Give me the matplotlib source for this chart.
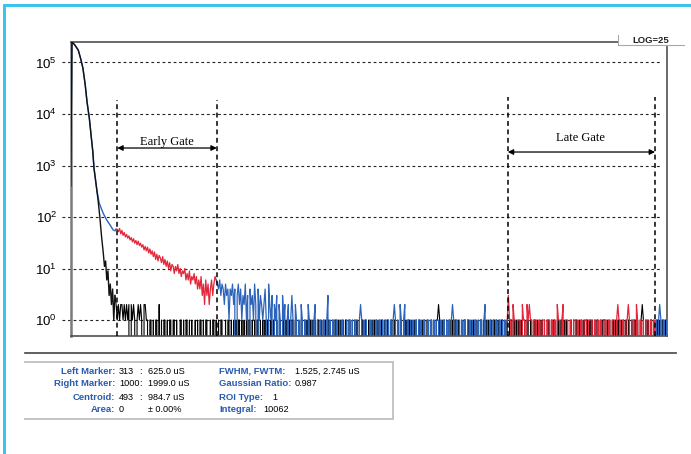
import numpy as np
import matplotlib
matplotlib.use("Agg")
import matplotlib.pyplot as plt
from matplotlib.patches import Rectangle
from matplotlib.lines import Line2D
from matplotlib.ticker import NullLocator

plt.rcParams['font.family'] = ['Liberation Sans', 'DejaVu Sans']
plt.rcParams['mathtext.fontset'] = 'custom'
plt.rcParams['mathtext.rm'] = 'Liberation Sans'
plt.rcParams['mathtext.it'] = 'Liberation Sans:italic'
plt.rcParams['mathtext.bf'] = 'Liberation Sans:bold'
plt.rcParams['path.simplify'] = False

# ---------------- data (counts per channel) ----------------
# black trace: steep decay head, then noise (digits = counts, step 2 channels)
black_head_ch = [0, 2, 7, 13, 17, 21, 25, 28, 32, 35, 38, 40, 43, 47, 50, 53, 56,
                 58, 60, 62, 64, 66, 68, 70, 72, 74, 76]
black_head_cnt = [400, 251000, 219000, 174000, 120000, 77600, 36300, 17400, 8300,
                  3890, 1860, 891, 490, 214, 102, 42, 20, 11, 14, 6, 9, 3, 5, 2, 4, 1, 3]
black_tail_start = 78
black_tail = ("2121221212" "1202121012" "1210221101" "1010110201" "0110101101"
              "1010011010" "1101010010" "1011010110" "0101101010" "1100101101"
              "0101011010" "1010110101" "0110101010" "1101011010" "0101101011"
              "0110100101" "1010101101" "0101101010" "1011001011" "0101010110"
              "1101010101" "0110110100" "1010101011" "0101101101" "1010010101"
              "0110101010" "1101010110" "0101011210" "1010101101" "0110100101"
              "1011010101" "0101101010" "1010110101" "0110101011" "1010101010"
              "0101101101" "1010101010" "0110101101" "1011010100" "0101011010"
              "1010110101" "0101101011" "1010100101" "0110101010" "1101011010"
              "0121010101" "1010110101" "101")

# gated trace: head (blue), early gate (red), middle (blue), late gate (red), end (blue)
gate_head_ch = [0, 2, 7, 13, 17, 21, 25, 28, 32, 35, 38, 40, 43, 45, 49, 56, 62,
                68, 73, 76, 78]
gate_head_cnt = [400, 251000, 219000, 174000, 120000, 77600, 36300, 17400, 8300,
                 3890, 1860, 891, 490, 331, 186, 117, 87, 69, 56, 54, 58]
early_start = 80
early_red = [58, 52, 60, 47, 55, 44, 50, 41, 46, 39,
             43, 36, 40, 33, 38, 31, 35, 29, 34, 28,
             31, 26, 29, 23, 27, 22, 26, 20, 24, 19,
             22, 17, 21, 15, 19, 14, 18, 16, 13, 17,
             12, 15, 11, 14, 10, 13, 9, 12, 11, 8,
             11, 9, 12, 8, 10, 7, 9, 8, 10, 6,
             8, 6, 9, 5, 7, 6, 8, 5, 7, 4,
             6, 4, 7, 3, 5, 2, 6, 3, 5, 2,
             4, 6, 3, 5, 7, 6]
mid_start = 252
blue_mid = ("5463542534" "1435240352" "4132513042" "3152041321" "2410521302"
            "1302103120" "1201310210" "1021011021" "0101201011" "0110130101"
            "1011010110" "0101101011" "1012101010" "0110101101" "1010110101"
            "0121010210" "1201101010" "1101010110" "0101101011" "1010110101"
            "0121011010" "1011010101" "0110101101" "2010110101" "1011010101")
late_start = 752
late_red = ("3110211011" "1021102121" "1011101101" "1101110110" "1021101201"
            "1101101110" "1011011101" "1110110101" "1011101101" "1101211011"
            "0112101110" "2101101011" "1011010")
end_start = 1006
blue_end = "1012101101"

# gates (channels) and labels
early_gate = [80, 251]
late_gate = [751, 1004]
gate_labels = ["Early Gate", "Late Gate"]
y_ticks = [1e0, 1e1, 1e2, 1e3, 1e4, 1e5]

info_labels_left = ["Left Marker:", "Right Marker:", "Centroid:", "Area:"]
info_vals_a = ["313", "1000", "493", "0"]
info_seps = [":", ":", ":", ""]
info_vals_b = ["625.0 uS", "1999.0 uS", "984.7 uS", "\u00b1 0.00%"]
info_labels_right = ["FWHM, FWTM:", "Gaussian Ratio:", "ROI Type:", "Integral:"]
info_vals_right = ["1.525, 2.745 uS", "0.987", "1", "10062"]
log_label = "LOG=25"

# ---------------- figure ----------------
W, H = 691, 454
fig = plt.figure(figsize=(W / 100, H / 100), dpi=100)


def fx(px):
    return px / W


def fy(py):
    return 1 - py / H


AX_L, AX_R, AX_T, AX_B = 70.7, 666.7, 42, 336
ax = fig.add_axes([fx(AX_L), fy(AX_B), fx(AX_R) - fx(AX_L), fy(AX_T) - fy(AX_B)])
ax.set_yscale('log')
ax.set_xlim(0, 1024)
ax.set_ylim(0.49, 2.5e5)
ax.set_yticks(y_ticks)
ax.yaxis.set_minor_locator(NullLocator())
ax.set_xticks([])
ax.tick_params(axis='y', length=0, pad=9.8, labelsize=9.5)
for s in ['top', 'right', 'bottom']:
    ax.spines[s].set_color('#505050')
    ax.spines[s].set_linewidth(1.2)
ax.spines['left'].set_color('#7a7a7a')
ax.spines['left'].set_linewidth(1.8)

# grid (dashed, extends slightly left of axis)
for v in y_ticks:
    ax.axhline(v, xmin=(62 - AX_L) / (AX_R - AX_L), xmax=(662 - AX_L) / (AX_R - AX_L),
               color='#222222', lw=0.8, ls=(0, (2.5, 2.5)), clip_on=False, zorder=1)


def digits(s):
    return np.array([int(c) for c in s], dtype=float)


# black noise tail
bt = digits(black_tail)
bt_x = black_tail_start + 2 * np.arange(len(bt))
ax.plot(np.r_[black_head_ch[-1], bt_x], np.r_[black_head_cnt[-1], bt],
        color='black', lw=0.8, zorder=2)

# gated trace
BLUE = '#2c64bc'
RED = '#e3263a'
er = np.array(early_red, dtype=float)
er_x = early_start + 2 * np.arange(len(er))
bm = digits(blue_mid)
bm_x = mid_start + 2 * np.arange(len(bm))
lr = digits(late_red)
lr_x = late_start + 2 * np.arange(len(lr))
be = digits(blue_end)
be_x = end_start + 2 * np.arange(len(be))

ax.plot(gate_head_ch, gate_head_cnt, color=BLUE, lw=1.0, zorder=3)
ax.plot(np.r_[gate_head_ch[-1], er_x], np.r_[gate_head_cnt[-1], er], color=RED, lw=0.9, zorder=3)
ax.plot(np.r_[er_x[-1], bm_x], np.r_[er[-1], bm], color=BLUE, lw=0.9, zorder=3)
ax.plot(np.r_[bm_x[-1], lr_x], np.r_[bm[-1], lr], color=RED, lw=0.9, zorder=3)
ax.plot(np.r_[lr_x[-1], be_x], np.r_[lr[-1], be], color=BLUE, lw=0.9, zorder=3)

# black head on top
ax.plot(black_head_ch, black_head_cnt, color='#111111', lw=1.0, zorder=4)

# gate markers
gate_top_px = [100, 97]
arrow_px = [148, 152]
text_px = [142, 138]
for (g0, g1), lab, tp, apx, tpx in zip([early_gate, late_gate], gate_labels,
                                        gate_top_px, arrow_px, text_px):
    for g in (g0, g1):
        ax.axvline(g, ymin=0, ymax=(AX_B - tp) / (AX_B - AX_T), color='black',
                   lw=1.1, ls=(0, (3.2, 2.3)), zorder=5)
    ya = 10 ** ((320 - apx) / 51.5)
    ax.annotate('', xy=(g0, ya), xytext=(g1, ya),
                arrowprops=dict(arrowstyle='<|-|>', color='black', lw=0.9,
                                shrinkA=0, shrinkB=0, mutation_scale=8), zorder=5)
    yt = 10 ** ((320 - tpx) / 51.5)
    ax.text((g0 + g1) / 2 - 1, yt, lab, ha='center', va='center',
            family=['Liberation Serif', 'DejaVu Serif'], size=9, zorder=5)

# LOG box at top right
fig.add_artist(Rectangle((fx(618.3), fy(45)), fx(684) - fx(618.3), fy(30) - fy(45),
                         facecolor='white', edgecolor='none', transform=fig.transFigure))
fig.add_artist(Line2D([fx(618.3), fx(618.3)], [fy(35), fy(45)], color='#a8a8a8', lw=0.8))
fig.add_artist(Line2D([fx(618.3), fx(684)], [fy(45), fy(45)], color='#a8a8a8', lw=0.8))
fig.text(fx(632), fy(40.5), log_label, ha='left', va='center', size=6.8,
         weight='bold', color='#222222')

# blue frame
FRAME = '#3cc4ef'
fig.add_artist(Rectangle((fx(2.5), fy(7)), 1 - fx(2.5), 3 / H, facecolor=FRAME,
                         edgecolor='none', transform=fig.transFigure))
fig.add_artist(Rectangle((fx(2.5), 0), 3 / W, fy(4), facecolor=FRAME,
                         edgecolor='none', transform=fig.transFigure))

# separator line
fig.add_artist(Line2D([fx(25), fx(676)], [fy(353), fy(353)], color='#444444', lw=1.2))

# info box
BOX_EDGE = '#c4c4c4'
fig.add_artist(Line2D([fx(25), fx(393)], [fy(362), fy(362)], color=BOX_EDGE, lw=1.4))
fig.add_artist(Line2D([fx(393), fx(393)], [fy(362), fy(419)], color=BOX_EDGE, lw=1.4))
fig.add_artist(Line2D([fx(25), fx(393)], [fy(419), fy(419)], color=BOX_EDGE, lw=1.4))

LAB = '#2a5cb0'
row_y = [371, 384, 397, 409.5]
right_val_x = [295, 295, 272, 263]
for i, y in enumerate(row_y):
    fig.text(fx(115), fy(y), info_labels_left[i], ha='right', va='center', size=6.8,
             weight='bold', color=LAB)
    fig.text(fx(119), fy(y), info_vals_a[i], ha='left', va='center', size=6.6, color='black')
    if info_seps[i]:
        fig.text(fx(140.5), fy(y), info_seps[i], ha='center', va='center', size=6.6,
                 color='black')
    fig.text(fx(147.5), fy(y), info_vals_b[i], ha='left', va='center', size=6.6,
             color='black')
    fig.text(fx(219), fy(y), info_labels_right[i], ha='left', va='center', size=6.8,
             weight='bold', color=LAB)
    fig.text(fx(right_val_x[i]), fy(y), info_vals_right[i], ha='left', va='center',
             size=6.6, color='black')

fig.savefig('out.png', dpi=100)
